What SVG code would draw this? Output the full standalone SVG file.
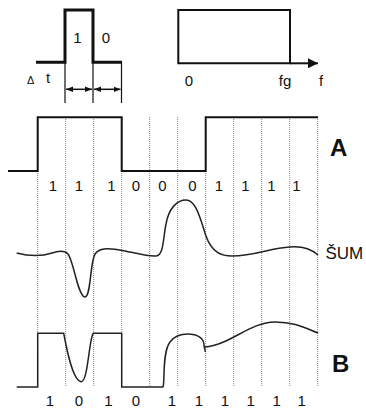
<svg xmlns="http://www.w3.org/2000/svg" width="366" height="411" viewBox="0 0 366 411">
<defs>
<style>
text{font-family:"Liberation Sans",Arial,sans-serif;fill:#111}
.d{font-size:15px;text-anchor:middle}
.big{font-size:24px;font-weight:bold}
.grid{stroke:#888;stroke-width:1;stroke-dasharray:1 1}
.sig{fill:none;stroke:#111;stroke-width:2}
.thin{fill:none;stroke:#222;stroke-width:1.5}
</style>
<marker id="ah" viewBox="0 0 10 10" refX="10" refY="5" markerWidth="7" markerHeight="7" orient="auto-start-reverse" markerUnits="userSpaceOnUse">
<path d="M0,1 L10,5 L0,9 Z" fill="#111"/>
</marker>
<marker id="fa" viewBox="0 0 10 10" refX="10" refY="5" markerWidth="10" markerHeight="10" orient="auto" markerUnits="userSpaceOnUse">
<path d="M0,0 L10,5 L0,10 Z" fill="#111"/>
</marker>
</defs>
<rect width="366" height="411" fill="#fff"/>

<g id="pulse">
<path d="M36,62.3 H65 V10 H93 V62.3 H122" fill="none" stroke="#111" stroke-width="3"/>
<path d="M65,62 V103 M93,62 V103 M121.5,62 V103" stroke="#111" stroke-width="1.2"/>
<line x1="66" y1="89.3" x2="92" y2="89.3" stroke="#111" stroke-width="1.5" marker-start="url(#ah)" marker-end="url(#ah)"/>
<line x1="94" y1="89.3" x2="120.5" y2="89.3" stroke="#111" stroke-width="1.5" marker-start="url(#ah)" marker-end="url(#ah)"/>
<text class="d" x="77.5" y="42.7">1</text>
<text class="d" x="106" y="42.7">0</text>
<text x="27" y="84" style="font-size:11px">Δ</text>
<text x="46" y="83" style="font-size:15px">t</text>
</g>

<g id="spectrum">
<path d="M178.3,63.3 V10 H290 V63.3 Z" fill="none" stroke="#111" stroke-width="2"/>
<line x1="290" y1="63.3" x2="318" y2="63.3" stroke="#111" stroke-width="2" marker-end="url(#fa)"/>
<text class="d" x="189" y="86">0</text>
<text class="d" x="285" y="86">fg</text>
<text class="d" x="321" y="86">f</text>
</g>

<g id="grid">
<path class="grid" d="M37.7,117 V387 M65.7,117 V387 M93.7,117 V387 M121.7,117 V387 M149.7,117 V387 M177.7,117 V387 M205.7,117 V387 M233.7,117 V387 M261.7,117 V387 M289.7,117 V387 M317.7,117 V387"/>
</g>

<g id="signalA">
<path class="sig" d="M8,171 H37.7 V117.3 H121.7 V171 H205.7 V117.3 H318"/>
<text class="big" x="330" y="156">A</text>
<text class="d" x="53" y="191">1</text>
<text class="d" x="79" y="191">1</text>
<text class="d" x="111.5" y="191">1</text>
<text class="d" x="136" y="191">0</text>
<text class="d" x="162.5" y="191">0</text>
<text class="d" x="192.5" y="191">0</text>
<text class="d" x="219" y="191">1</text>
<text class="d" x="245.5" y="191">1</text>
<text class="d" x="271.5" y="191">1</text>
<text class="d" x="296.5" y="191">1</text>
</g>

<g id="noise">
<path class="thin" d="M16.7,253 C28,256 40,257 52,253 C58,251 64,250 68,254 C74,262 78,297 85,297 C91,297 90,262 95,254 C100,247 110,248 125,251 C135,253 150,257 156,256 C164,255 163,238 166,224 C169,207 178,200 186,200 C196,200 200,218 206,236 C212,253 222,256 232,256 C255,256 270,248 290,247 C305,246 312,250 318,255"/>
<text x="325.5" y="259" style="font-size:17px">ŠUM</text>
</g>

<g id="signalB">
<path class="thin" d="M16.7,387 H37.7 V333.3 H63.7 C66,345 72,380 81,381.7 C88,383 89,338 93.3,333.3 H121.7 V387 H163 C165,383 162,352 170,342 C175,335 182,334 188,334 C197,334 204,338 204,345 C204,349 206,350 205,352"/>
<path class="thin" d="M205,347 C230,345 250,322 275,322 C295,322 305,328 318,333"/>
<text class="big" x="332" y="371.5">B</text>
<text class="d" x="50" y="406">1</text>
<text class="d" x="79" y="406">0</text>
<text class="d" x="108.3" y="406">1</text>
<text class="d" x="136" y="406">0</text>
<text class="d" x="172" y="406">1</text>
<text class="d" x="199" y="406">1</text>
<text class="d" x="225" y="406">1</text>
<text class="d" x="250.7" y="406">1</text>
<text class="d" x="276.7" y="406">1</text>
<text class="d" x="301.7" y="406">1</text>
</g>
</svg>
